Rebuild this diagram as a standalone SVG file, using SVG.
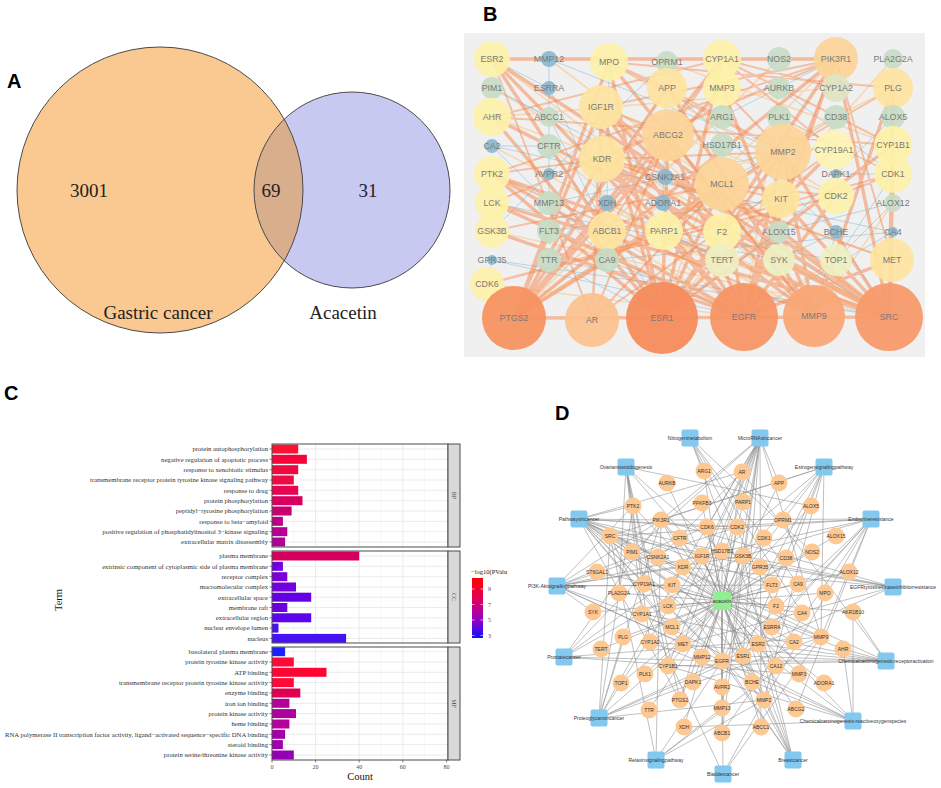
<svg xmlns="http://www.w3.org/2000/svg" width="941" height="788" viewBox="0 0 941 788">
<style>
.pl{font-family:"Liberation Sans",Arial,sans-serif;font-weight:bold;font-size:20px;fill:#000}
.vt{font-family:"Liberation Serif","Times New Roman",serif;font-size:19px;fill:#222;text-anchor:middle}
.bt{font-family:"Liberation Sans",Arial,sans-serif;font-size:8.8px;fill:#7a7a7a;text-anchor:middle}
.dt{font-family:"Liberation Sans",Arial,sans-serif;font-size:5px;fill:#333;text-anchor:middle}
.dc{fill:#fec892}
.ds{fill:#82c8ef}
.ct{font-family:"Liberation Serif","Times New Roman",serif;font-size:6.7px;fill:#333;text-anchor:end}
.ax{font-family:"Liberation Serif","Times New Roman",serif;font-size:6px;fill:#4d4d4d;text-anchor:middle}
.y1{fill:#fdf1a8;fill-opacity:.92}
.y2{fill:#fde4a0;fill-opacity:.92}
.o1{fill:#fcd598;fill-opacity:.92}
.gr{fill:#c8dcc6;fill-opacity:.92}
.bl{fill:#8ab8d0;fill-opacity:.92}
.yg{fill:#eef0c2;fill-opacity:.92}
</style>
<defs>
<clipPath id="cR"><circle cx="352" cy="190" r="98"/></clipPath>
<linearGradient id="lg" x1="0" y1="0" x2="0" y2="1">
<stop offset="0" stop-color="#ff0000"/><stop offset=".35" stop-color="#e0005a"/><stop offset=".68" stop-color="#9a00c0"/><stop offset="1" stop-color="#1010ff"/>
</linearGradient>
</defs>
<rect width="941" height="788" fill="#fff"/>

<!-- Panel A -->
<text class="pl" x="7" y="88">A</text>
<g id="venn">
<circle cx="160" cy="190" r="143" fill="#fac991"/>
<circle cx="352" cy="190" r="98" fill="#c7c9f1"/>
<circle cx="160" cy="190" r="143" fill="#d9ae8d" clip-path="url(#cR)"/>
<circle cx="160" cy="190" r="143" fill="none" stroke="#4a4a4a" stroke-width="1"/>
<circle cx="352" cy="190" r="98" fill="none" stroke="#4a4a4a" stroke-width="1"/>
<text class="vt" x="89" y="197">3001</text>
<text class="vt" x="271" y="197">69</text>
<text class="vt" x="368" y="197">31</text>
<text class="vt" x="158" y="319">Gastric cancer</text>
<text class="vt" x="343" y="319">Acacetin</text>
</g>

<!-- Panel B -->
<text class="pl" x="483" y="21">B</text>
<rect x="464" y="33" width="461" height="324" fill="#f0f0f0"/>
<g id="b-edges" fill="none" stroke-linecap="round">
<path stroke="#88bfdc" stroke-width="0.8" stroke-opacity=".7" d="M492 146L893 232M492 146L607 260M607 260L893 232M492 260L487 284M549 260L667 88M836 232L667 88M893 117L893 203M779 232L893 117M779 232L893 203M893 59L893 117M549 88L662 318M549 88L492 59M549 174L667 62M663 203L667 62M607 203L609 62M836 174L893 174M665 177L492 88M779 260L492 203M836 260L664 231M722 260L664 231M836 260L893 174M893 232L892 260M549 59L549 203M549 59L783 152M549 203L783 152M549 117L607 231M549 146L607 231M549 231L781 199M779 117L893 174M779 88L893 174M836 117L722 184M722 145L834 150M722 117L836 59M492 260L889 317M549 260L889 317M607 260L744 317M836 232L814 316M893 232L889 317M779 232L662 318M665 177L889 317M492 146L549 146M492 88L549 117M893 203L836 260M779 260L836 232M549 174L492 231M607 203L722 260M492 260L744 317M549 260L662 318M893 232L744 317M836 232L889 317"/>
<path stroke="#f9c483" stroke-width="1.6" stroke-opacity=".55" d="M492 88L889 317M492 146L814 316M549 146L744 317M549 231L744 317M607 203L814 316M836 88L492 117M836 117L514 318M722 117L514 318M779 117L893 174M779 88L744 317M722 145L662 318M663 203L514 318M779 260L889 317M836 260L744 317M722 260L889 317M722 232L814 316M664 231L889 317M607 231L744 317M893 203L814 316M487 284L744 317M492 231L889 317M549 59L889 317M609 62L836 196M667 62L893 145M779 59L514 318M893 59L662 318M492 117L893 260M607 231L893 88M664 231L836 59M722 232L492 59M836 196L601 107M779 260L601 107"/>
<path stroke="#f5874d" stroke-width="2" stroke-opacity=".45" d="M783 152L722 88M783 152L602 159M783 152L667 88M783 152L893 88M783 152L609 62M668 135L607 231M668 135L722 59M668 135L601 107M602 159L492 174M602 159L601 107M602 159L836 59M602 159L892 260M602 159L781 199M836 59L601 107M836 59L892 260M836 59L492 174M836 59L492 203M836 59L781 199M722 184L836 196M722 184L664 231M722 184L492 231M893 174L836 196M836 196L487 284M893 174L487 284M722 59L893 145M722 59L836 88M722 59L492 117M834 150L722 59M893 145L492 117M609 62L667 88M609 62L893 88M592 320L492 59M592 320L668 135M592 320L834 150M592 320L601 107M592 320L602 159M592 320L722 184M814 316L492 174M814 316L668 135"/>
<path stroke="#f5844a" stroke-width="3.4" stroke-opacity=".5" d="M514 318L889 317M492 59L836 59M889 317L836 59M889 317L602 159M889 317L601 107M889 317L892 260M889 317L492 174M889 317L492 203M889 317L783 152M889 317L893 174M889 317L722 184M889 317L781 199M889 317L492 59M889 317L492 117M889 317L893 88M889 317L893 145M744 317L836 59M744 317L602 159M744 317L601 107M744 317L892 260M744 317L492 174M744 317L783 152M744 317L722 184M744 317L781 199M744 317L492 59M744 317L668 135M744 317L836 196M744 317L492 231M744 317L492 203M662 318L492 59M662 318L836 59M662 318L834 150M662 318L783 152M662 318L601 107M662 318L492 117M662 318L893 145M662 318L668 135M662 318L722 184M662 318L492 174M662 318L722 59M662 318L609 62M514 318L783 152M514 318L609 62M514 318L668 135M514 318L602 159M514 318L667 88M514 318L722 59M514 318L601 107M514 318L722 184M514 318L836 59M514 318L722 88M814 316L783 152M814 316L722 88M814 316L667 88M814 316L893 88M814 316L609 62M814 316L602 159M814 316L601 107"/>
</g>
<g id="b-ESR2"><circle class="y1" cx="492" cy="59" r="18"/><text class="bt" x="492" y="62">ESR2</text></g>
<g id="b-MMP12"><circle class="bl" cx="549" cy="59" r="8"/><text class="bt" x="549" y="62">MMP12</text></g>
<g id="b-MPO"><circle class="y1" cx="609" cy="62" r="19"/><text class="bt" x="609" y="65">MPO</text></g>
<g id="b-OPRM1"><circle class="gr" cx="667" cy="62" r="11"/><text class="bt" x="667" y="65">OPRM1</text></g>
<g id="b-CYP1A1"><circle class="y1" cx="722" cy="59" r="19"/><text class="bt" x="722" y="62">CYP1A1</text></g>
<g id="b-NOS2"><circle class="gr" cx="779" cy="59" r="12"/><text class="bt" x="779" y="62">NOS2</text></g>
<g id="b-PIK3R1"><circle class="o1" cx="836" cy="59" r="22"/><text class="bt" x="836" y="62">PIK3R1</text></g>
<g id="b-PLA2G2A"><circle class="gr" cx="893" cy="59" r="10"/><text class="bt" x="893" y="62">PLA2G2A</text></g>
<g id="b-PIM1"><circle class="gr" cx="492" cy="88" r="11"/><text class="bt" x="492" y="91">PIM1</text></g>
<g id="b-ESRRA"><circle class="bl" cx="549" cy="88" r="7"/><text class="bt" x="549" y="91">ESRRA</text></g>
<g id="b-APP"><circle class="y2" cx="667" cy="88" r="20"/><text class="bt" x="667" y="91">APP</text></g>
<g id="b-MMP3"><circle class="y1" cx="722" cy="88" r="19"/><text class="bt" x="722" y="91">MMP3</text></g>
<g id="b-AURKB"><circle class="gr" cx="779" cy="88" r="11"/><text class="bt" x="779" y="91">AURKB</text></g>
<g id="b-CYP1A2"><circle fill="#dfe4c3" fill-opacity=".92" cx="836" cy="88" r="14"/><text class="bt" x="836" y="91">CYP1A2</text></g>
<g id="b-PLG"><circle class="y2" cx="893" cy="88" r="20"/><text class="bt" x="893" y="91">PLG</text></g>
<g id="b-IGF1R"><circle class="y2" cx="601" cy="107" r="22"/><text class="bt" x="601" y="110">IGF1R</text></g>
<g id="b-AHR"><circle class="y1" cx="492" cy="117" r="19"/><text class="bt" x="492" y="120">AHR</text></g>
<g id="b-ABCC1"><circle class="gr" cx="549" cy="117" r="10"/><text class="bt" x="549" y="120">ABCC1</text></g>
<g id="b-ARG1"><circle class="gr" cx="722" cy="117" r="12"/><text class="bt" x="722" y="120">ARG1</text></g>
<g id="b-PLK1"><circle class="gr" cx="779" cy="117" r="12"/><text class="bt" x="779" y="120">PLK1</text></g>
<g id="b-CD38"><circle class="gr" cx="836" cy="117" r="12"/><text class="bt" x="836" y="120">CD38</text></g>
<g id="b-ALOX5"><circle class="gr" cx="893" cy="117" r="12"/><text class="bt" x="893" y="120">ALOX5</text></g>
<g id="b-ABCG2"><circle class="o1" cx="668" cy="135" r="26"/><text class="bt" x="668" y="138">ABCG2</text></g>
<g id="b-CA2"><circle class="bl" cx="492" cy="146" r="7"/><text class="bt" x="492" y="149">CA2</text></g>
<g id="b-CFTR"><circle class="gr" cx="549" cy="146" r="12"/><text class="bt" x="549" y="149">CFTR</text></g>
<g id="b-HSD17B1"><circle class="gr" cx="722" cy="145" r="12"/><text class="bt" x="722" y="148">HSD17B1</text></g>
<g id="b-MMP2"><circle class="o1" cx="783" cy="152" r="28"/><text class="bt" x="783" y="155">MMP2</text></g>
<g id="b-CYP19A1"><circle fill="#fef4b4" fill-opacity=".92" cx="834" cy="150" r="20"/><text class="bt" x="834" y="153">CYP19A1</text></g>
<g id="b-CYP1B1"><circle class="y1" cx="893" cy="145" r="19"/><text class="bt" x="893" y="148">CYP1B1</text></g>
<g id="b-KDR"><circle class="y2" cx="602" cy="159" r="23"/><text class="bt" x="602" y="162">KDR</text></g>
<g id="b-PTK2"><circle class="y1" cx="492" cy="174" r="18"/><text class="bt" x="492" y="177">PTK2</text></g>
<g id="b-AVPR2"><circle class="bl" cx="549" cy="174" r="6"/><text class="bt" x="549" y="177">AVPR2</text></g>
<g id="b-CSNK2A1"><circle class="bl" cx="665" cy="177" r="8"/><text class="bt" x="665" y="180">CSNK2A1</text></g>
<g id="b-DAPK1"><circle class="bl" cx="836" cy="174" r="5"/><text class="bt" x="836" y="177">DAPK1</text></g>
<g id="b-CDK1"><circle class="y1" cx="893" cy="174" r="19"/><text class="bt" x="893" y="177">CDK1</text></g>
<g id="b-MCL1"><circle class="o1" cx="722" cy="184" r="27"/><text class="bt" x="722" y="187">MCL1</text></g>
<g id="b-LCK"><circle class="y1" cx="492" cy="203" r="17"/><text class="bt" x="492" y="206">LCK</text></g>
<g id="b-MMP13"><circle class="gr" cx="549" cy="203" r="12"/><text class="bt" x="549" y="206">MMP13</text></g>
<g id="b-XDH"><circle class="bl" cx="607" cy="203" r="8"/><text class="bt" x="607" y="206">XDH</text></g>
<g id="b-ADORA1"><circle class="bl" cx="663" cy="203" r="8"/><text class="bt" x="663" y="206">ADORA1</text></g>
<g id="b-KIT"><circle class="y2" cx="781" cy="199" r="19"/><text class="bt" x="781" y="202">KIT</text></g>
<g id="b-CDK2"><circle class="y1" cx="836" cy="196" r="18"/><text class="bt" x="836" y="199">CDK2</text></g>
<g id="b-ALOX12"><circle class="gr" cx="893" cy="203" r="9"/><text class="bt" x="893" y="206">ALOX12</text></g>
<g id="b-GSK3B"><circle class="y1" cx="492" cy="231" r="17"/><text class="bt" x="492" y="234">GSK3B</text></g>
<g id="b-FLT3"><circle class="gr" cx="549" cy="231" r="12"/><text class="bt" x="549" y="234">FLT3</text></g>
<g id="b-ABCB1"><circle class="y2" cx="607" cy="231" r="19"/><text class="bt" x="607" y="234">ABCB1</text></g>
<g id="b-PARP1"><circle class="y1" cx="664" cy="231" r="19"/><text class="bt" x="664" y="234">PARP1</text></g>
<g id="b-F2"><circle class="y1" cx="722" cy="232" r="19"/><text class="bt" x="722" y="235">F2</text></g>
<g id="b-ALOX15"><circle class="gr" cx="779" cy="232" r="11"/><text class="bt" x="779" y="235">ALOX15</text></g>
<g id="b-BCHE"><circle class="bl" cx="836" cy="232" r="7"/><text class="bt" x="836" y="235">BCHE</text></g>
<g id="b-CA4"><circle class="bl" cx="893" cy="232" r="5"/><text class="bt" x="893" y="235">CA4</text></g>
<g id="b-GPR35"><circle class="bl" cx="492" cy="260" r="5"/><text class="bt" x="492" y="263">GPR35</text></g>
<g id="b-TTR"><circle class="gr" cx="549" cy="260" r="12"/><text class="bt" x="549" y="263">TTR</text></g>
<g id="b-CA9"><circle class="gr" cx="607" cy="260" r="12"/><text class="bt" x="607" y="263">CA9</text></g>
<g id="b-TERT"><circle class="yg" cx="722" cy="260" r="17"/><text class="bt" x="722" y="263">TERT</text></g>
<g id="b-SYK"><circle class="yg" cx="779" cy="260" r="16"/><text class="bt" x="779" y="263">SYK</text></g>
<g id="b-TOP1"><circle class="yg" cx="836" cy="260" r="16"/><text class="bt" x="836" y="263">TOP1</text></g>
<g id="b-MET"><circle class="y2" cx="892" cy="260" r="22"/><text class="bt" x="892" y="263">MET</text></g>
<g id="b-CDK6"><circle class="y1" cx="487" cy="284" r="17"/><text class="bt" x="487" y="287">CDK6</text></g>
<g id="b-PTGS2"><circle fill="#f79260" fill-opacity=".95" cx="514" cy="318" r="32"/><text class="bt" x="514" y="321">PTGS2</text></g>
<g id="b-AR"><circle fill="#fbc28f" fill-opacity=".95" cx="592" cy="320" r="27"/><text class="bt" x="592" y="323">AR</text></g>
<g id="b-ESR1"><circle fill="#f58b5c" fill-opacity=".95" cx="662" cy="318" r="36"/><text class="bt" x="662" y="321">ESR1</text></g>
<g id="b-EGFR"><circle fill="#f79565" fill-opacity=".95" cx="744" cy="317" r="34"/><text class="bt" x="744" y="320">EGFR</text></g>
<g id="b-MMP9"><circle fill="#f9a676" fill-opacity=".95" cx="814" cy="316" r="31"/><text class="bt" x="814" y="319">MMP9</text></g>
<g id="b-SRC"><circle fill="#f79a6b" fill-opacity=".95" cx="889" cy="317" r="34"/><text class="bt" x="889" y="320">SRC</text></g>

<!-- Panel C -->
<text class="pl" x="4" y="400">C</text>
<g id="c-chart">
<rect x="272" y="444" width="176" height="103" fill="#fff"/>
<rect x="272" y="551" width="176" height="92" fill="#fff"/>
<rect x="272" y="647" width="176" height="113" fill="#fff"/>
<path fill="none" stroke="#f3f3f3" stroke-width="0.5" d="M293.8 444V547M337.4 444V547M381 444V547M424.6 444V547M293.8 551V643M337.4 551V643M381 551V643M424.6 551V643M293.8 647V760M337.4 647V760M381 647V760M424.6 647V760"/>
<path fill="none" stroke="#e6e6e6" stroke-width="0.8" d="M315.6 444V547M359.2 444V547M402.8 444V547M315.6 551V643M359.2 551V643M402.8 551V643M315.6 647V760M359.2 647V760M402.8 647V760M272 449H448M272 459.3H448M272 469.7H448M272 480H448M272 490.3H448M272 500.7H448M272 511H448M272 521.3H448M272 531.7H448M272 542H448M272 556H448M272 566.3H448M272 576.7H448M272 587H448M272 597.2H448M272 607.5H448M272 617.8H448M272 628.1H448M272 638.4H448M272 651.7H448M272 662H448M272 672.3H448M272 682.6H448M272 693H448M272 703.3H448M272 713.6H448M272 724H448M272 734.3H448M272 744.6H448M272 755H448"/>
<g id="c-bars">
<rect x="272" y="444.5" width="26.2" height="9" fill="#ff1030"/>
<rect x="272" y="454.8" width="34.9" height="9" fill="#f5053a"/>
<rect x="272" y="465.2" width="26.2" height="9" fill="#f00840"/>
<rect x="272" y="475.5" width="21.8" height="9" fill="#ee0a45"/>
<rect x="272" y="485.8" width="26.2" height="9" fill="#e60550"/>
<rect x="272" y="496.2" width="30.5" height="9" fill="#d8005e"/>
<rect x="272" y="506.5" width="19.6" height="9" fill="#c8006e"/>
<rect x="272" y="516.8" width="10.9" height="9" fill="#bb0085"/>
<rect x="272" y="527.2" width="15.3" height="9" fill="#b50090"/>
<rect x="272" y="537.5" width="13.1" height="9" fill="#b0009a"/>
<rect x="272" y="551.5" width="87.2" height="9" fill="#d5005e"/>
<rect x="272" y="561.8" width="10.9" height="9" fill="#7000e0"/>
<rect x="272" y="572.2" width="15.3" height="9" fill="#7a00d6"/>
<rect x="272" y="582.5" width="24" height="9" fill="#7000dc"/>
<rect x="272" y="592.7" width="39.2" height="9" fill="#6500e5"/>
<rect x="272" y="603" width="15.3" height="9" fill="#6a00e2"/>
<rect x="272" y="613.3" width="39.2" height="9" fill="#5a05ec"/>
<rect x="272" y="623.6" width="6.5" height="9" fill="#4a10f2"/>
<rect x="272" y="633.9" width="74.1" height="9" fill="#4612f5"/>
<rect x="272" y="647.2" width="13.1" height="9" fill="#1a22ff"/>
<rect x="272" y="657.5" width="21.8" height="9" fill="#ff0a38"/>
<rect x="272" y="667.8" width="54.5" height="9" fill="#ff0533"/>
<rect x="272" y="678.1" width="21.8" height="9" fill="#ff0a38"/>
<rect x="272" y="688.5" width="28.3" height="9" fill="#e00052"/>
<rect x="272" y="698.8" width="17.4" height="9" fill="#b4009a"/>
<rect x="272" y="709.1" width="24" height="9" fill="#b000a0"/>
<rect x="272" y="719.5" width="17.4" height="9" fill="#b4009a"/>
<rect x="272" y="729.8" width="13.1" height="9" fill="#a200a8"/>
<rect x="272" y="740.1" width="10.9" height="9" fill="#a000ab"/>
<rect x="272" y="750.5" width="21.8" height="9" fill="#9400b4"/>
</g>
<rect x="272" y="444" width="176" height="103" fill="none" stroke="#4d4d4d" stroke-width="1"/>
<rect x="272" y="551" width="176" height="92" fill="none" stroke="#4d4d4d" stroke-width="1"/>
<rect x="272" y="647" width="176" height="113" fill="none" stroke="#4d4d4d" stroke-width="1"/>
<rect x="448" y="444" width="12" height="103" fill="#d9d9d9" stroke="#4d4d4d" stroke-width="1"/>
<rect x="448" y="551" width="12" height="92" fill="#d9d9d9" stroke="#4d4d4d" stroke-width="1"/>
<rect x="448" y="647" width="12" height="113" fill="#d9d9d9" stroke="#4d4d4d" stroke-width="1"/>
<text class="ax" transform="translate(452 495.5) rotate(90)" fill="#1a1a1a">BP</text>
<text class="ax" transform="translate(452 597) rotate(90)" fill="#1a1a1a">CC</text>
<text class="ax" transform="translate(452 703.5) rotate(90)" fill="#1a1a1a">MF</text>
<path fill="none" stroke="#333" stroke-width="0.6" d="M269.5 449H272M269.5 459.3H272M269.5 469.7H272M269.5 480H272M269.5 490.3H272M269.5 500.7H272M269.5 511H272M269.5 521.3H272M269.5 531.7H272M269.5 542H272M269.5 556H272M269.5 566.3H272M269.5 576.7H272M269.5 587H272M269.5 597.2H272M269.5 607.5H272M269.5 617.8H272M269.5 628.1H272M269.5 638.4H272M269.5 651.7H272M269.5 662H272M269.5 672.3H272M269.5 682.6H272M269.5 693H272M269.5 703.3H272M269.5 713.6H272M269.5 724H272M269.5 734.3H272M269.5 744.6H272M269.5 755H272M272 760V762.5M315.6 760V762.5M359.2 760V762.5M402.8 760V762.5M446.4 760V762.5"/>
<text class="ct" x="268" y="451.3">protein autophosphorylation</text>
<text class="ct" x="268" y="461.6">negative regulation of apoptotic process</text>
<text class="ct" x="268" y="472">response to xenobiotic stimulus</text>
<text class="ct" x="268" y="482.3">transmembrane receptor protein tyrosine kinase signaling pathway</text>
<text class="ct" x="268" y="492.6">response to drug</text>
<text class="ct" x="268" y="503">protein phosphorylation</text>
<text class="ct" x="268" y="513.3">peptidyl−tyrosine phosphorylation</text>
<text class="ct" x="268" y="523.6">response to beta−amyloid</text>
<text class="ct" x="268" y="534">positive regulation of phosphatidylinositol 3−kinase signaling</text>
<text class="ct" x="268" y="544.3">extracellular matrix disassembly</text>
<text class="ct" x="268" y="558.3">plasma membrane</text>
<text class="ct" x="268" y="568.6">extrinsic component of cytoplasmic side of plasma membrane</text>
<text class="ct" x="268" y="579">receptor complex</text>
<text class="ct" x="268" y="589.3">macromolecular complex</text>
<text class="ct" x="268" y="599.5">extracellular space</text>
<text class="ct" x="268" y="609.8">membrane raft</text>
<text class="ct" x="268" y="620.1">extracellular region</text>
<text class="ct" x="268" y="630.4">nuclear envelope lumen</text>
<text class="ct" x="268" y="640.7">nucleus</text>
<text class="ct" x="268" y="654">basolateral plasma membrane</text>
<text class="ct" x="268" y="664.3">protein tyrosine kinase activity</text>
<text class="ct" x="268" y="674.6">ATP binding</text>
<text class="ct" x="268" y="684.9">transmembrane receptor protein tyrosine kinase activity</text>
<text class="ct" x="268" y="695.3">enzyme binding</text>
<text class="ct" x="268" y="705.6">iron ion binding</text>
<text class="ct" x="268" y="715.9">protein kinase activity</text>
<text class="ct" x="268" y="726.3">heme binding</text>
<text class="ct" x="268" y="736.6">RNA polymerase II transcription factor activity, ligand−activated sequence−specific DNA binding</text>
<text class="ct" x="268" y="746.9">steroid binding</text>
<text class="ct" x="268" y="757.3">protein serine/threonine kinase activity</text>
<text class="ax" x="272" y="768.5">0</text>
<text class="ax" x="315.6" y="768.5">20</text>
<text class="ax" x="359.2" y="768.5">40</text>
<text class="ax" x="402.8" y="768.5">60</text>
<text class="ax" x="446.4" y="768.5">80</text>
<text x="360" y="780" font-family="Liberation Serif, Times New Roman, serif" font-size="10.5" fill="#111" text-anchor="middle">Count</text>
<text transform="translate(62 600) rotate(-90)" font-family="Liberation Serif, Times New Roman, serif" font-size="10.5" fill="#111" text-anchor="middle">Term</text>
<text x="471" y="574" font-family="Liberation Serif, Times New Roman, serif" font-size="6.5" fill="#222">−log10(PValu</text>
<rect x="472" y="578" width="11" height="60" fill="url(#lg)"/>
<path fill="none" stroke="#fff" stroke-width="0.6" d="M472 589H474.5M480.5 589H483M472 604.5H474.5M480.5 604.5H483M472 620H474.5M480.5 620H483M472 635.5H474.5M480.5 635.5H483"/>
<text class="ax" x="488" y="591" style="text-anchor:start">9</text>
<text class="ax" x="488" y="606.5" style="text-anchor:start">7</text>
<text class="ax" x="488" y="622" style="text-anchor:start">5</text>
<text class="ax" x="488" y="637.5" style="text-anchor:start">3</text>
</g>

<!-- Panel D -->
<text class="pl" x="555" y="420">D</text>
<g id="d-edges" fill="none" stroke="#8c8c8c" stroke-width="0.55">
<path d="M722 601L704 471M722 601L667 483M722 601L742 472M722 601L779 483M722 601L633 506M722 601L702 503M722 601L743 502M722 601L811 506M722 601L661 520M722 601L783 520M722 601L707 527M722 601L737 527M722 601L610 536M722 601L680 538M722 601L764 538M722 601L836 536M722 601L632 552M722 601L658 557M722 601L702 556M722 601L722 551M722 601L743 556M722 601L786 558M722 601L812 552M722 601L683 567M722 601L760 567M722 601L597 572M722 601L849 572M722 601L644 584M722 601L672 585M722 601L772 585M722 601L798 584M722 601L619 593M722 601L825 593M722 601L593 612M722 601L668 606M722 601L776 606M722 601L802 613M722 601L853 612M722 601L642 614M722 601L672 627M722 601L772 627M722 601L623 637M722 601L821 637M722 601L650 642M722 601L683 644M722 601L758 644M722 601L794 642M722 601L601 649M722 601L843 649M722 601L702 657M722 601L722 661M722 601L743 656M722 601L776 666M722 601L668 666M722 601L645 674M722 601L799 674M722 601L621 683M722 601L693 682M722 601L752 682M722 601L824 683M722 601L722 687M722 601L680 700M722 601L764 700M722 601L722 708M722 601L796 709M722 601L649 710M722 601L684 727M722 601L722 733M722 601L761 727"/>
<path d="M690 438L704 471M690 438L812 552M690 438L794 642M690 438L802 613M690 438L798 584M690 438L776 666M760 438L680 700M760 438L672 627M760 438L722 661M760 438L683 644M760 438L821 637M760 438L722 708M760 438L707 527M760 438L722 733M760 438L761 727M760 438L661 520M760 438L632 552M760 438L779 483M760 438L742 472M760 438L672 585M760 438L743 656M760 438L668 666M760 438L743 502M760 438L702 556M626 467L644 584M626 467L668 666M626 467L642 614M626 467L680 700M626 467L722 551M626 467L811 506M626 467L619 593M626 467L633 506M626 467L702 556M626 467L650 642M824 467L743 656M824 467L758 644M824 467L722 661M824 467L610 536M824 467L661 520M824 467L821 637M824 467L764 700M824 467L722 551M824 467L783 520M824 467L743 556"/>
<path d="M579 519L722 661M579 519L610 536M579 519L661 520M579 519L672 585M579 519L772 585M579 519L683 644M579 519L702 556M579 519L680 700M579 519L821 637M579 519L764 700M579 519L742 472M579 519L743 656M579 519L758 644M579 519L707 527M579 519L737 527M579 519L743 556M579 519L633 506M579 519L632 552M579 519L658 557M579 519L683 567M579 519L672 627M871 519L743 656M871 519L758 644M871 519L722 661M871 519L610 536M871 519L661 520M871 519L702 556M871 519L722 733M871 519L796 709M871 519L821 637M871 519L764 700M871 519L707 527M871 519L743 556"/>
<path d="M557 586L722 661M557 586L661 520M557 586L672 585M557 586L772 585M557 586L683 644M557 586L702 556M557 586L683 567M557 586L593 612M557 586L633 506M557 586L672 627M557 586L707 527M557 586L737 527M557 586L743 556M893 587L722 661M893 587L610 536M893 587L661 520M893 587L683 644M893 587L683 567M893 587L702 556M893 587L743 556M564 657L742 472M564 657L722 661M564 657L661 520M564 657L743 556M564 657L799 674M564 657L821 637M564 657L702 556M886 661L843 649M886 661L642 614M886 661L650 642M886 661L668 666M886 661L743 656M886 661L742 472M886 661L722 661M886 661L610 536M886 661L853 612M886 661L758 644"/>
<path d="M599 718L610 536M599 718L722 661M599 718L661 520M599 718L683 567M599 718L683 644M599 718L623 637M599 718L764 700M599 718L821 637M599 718L743 656M599 718L702 556M599 718L633 506M853 721L642 614M853 721L650 642M853 721L668 666M853 721L843 649M853 721L722 661M853 721L610 536M853 721L684 727M853 721L661 520M853 721L853 612M656 760L722 661M656 760L610 536M656 760L661 520M656 760L764 700M656 760L821 637M656 760L722 708M793 760L743 656M793 760L758 644M793 760L722 661M793 760L661 520M793 760L743 556M793 760L707 527M793 760L672 585M793 760L702 556M723 774L722 661M723 774L610 536M723 774L764 700M723 774L821 637"/>
</g>
<g id="d-ARG1"><circle class="dc" cx="704" cy="471" r="8.5"/><text class="dt" x="704" y="472.8">ARG1</text></g>
<g id="d-AURKB"><circle class="dc" cx="667" cy="483" r="8.5"/><text class="dt" x="667" y="484.8">AURKB</text></g>
<g id="d-AR"><circle class="dc" cx="742" cy="472" r="8.5"/><text class="dt" x="742" y="473.8">AR</text></g>
<g id="d-APP"><circle class="dc" cx="779" cy="483" r="8.5"/><text class="dt" x="779" y="484.8">APP</text></g>
<g id="d-PTK2"><circle class="dc" cx="633" cy="506" r="8.5"/><text class="dt" x="633" y="507.8">PTK2</text></g>
<g id="d-PFKFB3"><circle class="dc" cx="702" cy="503" r="8.5"/><text class="dt" x="702" y="504.8">PFKFB3</text></g>
<g id="d-PARP1"><circle class="dc" cx="743" cy="502" r="8.5"/><text class="dt" x="743" y="503.8">PARP1</text></g>
<g id="d-ALOX5"><circle class="dc" cx="811" cy="506" r="8.5"/><text class="dt" x="811" y="507.8">ALOX5</text></g>
<g id="d-PIK3R1"><circle class="dc" cx="661" cy="520" r="8.5"/><text class="dt" x="661" y="521.8">PIK3R1</text></g>
<g id="d-OPRM1"><circle class="dc" cx="783" cy="520" r="8.5"/><text class="dt" x="783" y="521.8">OPRM1</text></g>
<g id="d-CDK6"><circle class="dc" cx="707" cy="527" r="8.5"/><text class="dt" x="707" y="528.8">CDK6</text></g>
<g id="d-CDK2"><circle class="dc" cx="737" cy="527" r="8.5"/><text class="dt" x="737" y="528.8">CDK2</text></g>
<g id="d-SRC"><circle class="dc" cx="610" cy="536" r="8.5"/><text class="dt" x="610" y="537.8">SRC</text></g>
<g id="d-CFTR"><circle class="dc" cx="680" cy="538" r="8.5"/><text class="dt" x="680" y="539.8">CFTR</text></g>
<g id="d-CDK1"><circle class="dc" cx="764" cy="538" r="8.5"/><text class="dt" x="764" y="539.8">CDK1</text></g>
<g id="d-ALOX15"><circle class="dc" cx="836" cy="536" r="8.5"/><text class="dt" x="836" y="537.8">ALOX15</text></g>
<g id="d-PIM1"><circle class="dc" cx="632" cy="552" r="8.5"/><text class="dt" x="632" y="553.8">PIM1</text></g>
<g id="d-CSNK2A1"><circle class="dc" cx="658" cy="557" r="8.5"/><text class="dt" x="658" y="558.8">CSNK2A1</text></g>
<g id="d-IGF1R"><circle class="dc" cx="702" cy="556" r="8.5"/><text class="dt" x="702" y="557.8">IGF1R</text></g>
<g id="d-HSD17B1"><circle class="dc" cx="722" cy="551" r="8.5"/><text class="dt" x="722" y="552.8">HSD17B1</text></g>
<g id="d-GSK3B"><circle class="dc" cx="743" cy="556" r="8.5"/><text class="dt" x="743" y="557.8">GSK3B</text></g>
<g id="d-CD38"><circle class="dc" cx="786" cy="558" r="8.5"/><text class="dt" x="786" y="559.8">CD38</text></g>
<g id="d-NOS2"><circle class="dc" cx="812" cy="552" r="8.5"/><text class="dt" x="812" y="553.8">NOS2</text></g>
<g id="d-KDR"><circle class="dc" cx="683" cy="567" r="8.5"/><text class="dt" x="683" y="568.8">KDR</text></g>
<g id="d-GPR35"><circle class="dc" cx="760" cy="567" r="8.5"/><text class="dt" x="760" y="568.8">GPR35</text></g>
<g id="d-ST6GAL1"><circle class="dc" cx="597" cy="572" r="8.5"/><text class="dt" x="597" y="573.8">ST6GAL1</text></g>
<g id="d-ALOX12"><circle class="dc" cx="849" cy="572" r="8.5"/><text class="dt" x="849" y="573.8">ALOX12</text></g>
<g id="d-CYP19A1"><circle class="dc" cx="644" cy="584" r="8.5"/><text class="dt" x="644" y="585.8">CYP19A1</text></g>
<g id="d-KIT"><circle class="dc" cx="672" cy="585" r="8.5"/><text class="dt" x="672" y="586.8">KIT</text></g>
<g id="d-FLT3"><circle class="dc" cx="772" cy="585" r="8.5"/><text class="dt" x="772" y="586.8">FLT3</text></g>
<g id="d-CA9"><circle class="dc" cx="798" cy="584" r="8.5"/><text class="dt" x="798" y="585.8">CA9</text></g>
<g id="d-PLA2G2A"><circle class="dc" cx="619" cy="593" r="8.5"/><text class="dt" x="619" y="594.8">PLA2G2A</text></g>
<g id="d-MPO"><circle class="dc" cx="825" cy="593" r="8.5"/><text class="dt" x="825" y="594.8">MPO</text></g>
<g id="d-SYK"><circle class="dc" cx="593" cy="612" r="8.5"/><text class="dt" x="593" y="613.8">SYK</text></g>
<g id="d-LCK"><circle class="dc" cx="668" cy="606" r="8.5"/><text class="dt" x="668" y="607.8">LCK</text></g>
<g id="d-F2"><circle class="dc" cx="776" cy="606" r="8.5"/><text class="dt" x="776" y="607.8">F2</text></g>
<g id="d-CA4"><circle class="dc" cx="802" cy="613" r="8.5"/><text class="dt" x="802" y="614.8">CA4</text></g>
<g id="d-AKR1B10"><circle class="dc" cx="853" cy="612" r="8.5"/><text class="dt" x="853" y="613.8">AKR1B10</text></g>
<g id="d-CYP1A1"><circle class="dc" cx="642" cy="614" r="8.5"/><text class="dt" x="642" y="615.8">CYP1A1</text></g>
<g id="d-MCL1"><circle class="dc" cx="672" cy="627" r="8.5"/><text class="dt" x="672" y="628.8">MCL1</text></g>
<g id="d-ESRRA"><circle class="dc" cx="772" cy="627" r="8.5"/><text class="dt" x="772" y="628.8">ESRRA</text></g>
<g id="d-PLG"><circle class="dc" cx="623" cy="637" r="8.5"/><text class="dt" x="623" y="638.8">PLG</text></g>
<g id="d-MMP9"><circle class="dc" cx="821" cy="637" r="8.5"/><text class="dt" x="821" y="638.8">MMP9</text></g>
<g id="d-CYP1A2"><circle class="dc" cx="650" cy="642" r="8.5"/><text class="dt" x="650" y="643.8">CYP1A2</text></g>
<g id="d-MET"><circle class="dc" cx="683" cy="644" r="8.5"/><text class="dt" x="683" y="645.8">MET</text></g>
<g id="d-ESR2"><circle class="dc" cx="758" cy="644" r="8.5"/><text class="dt" x="758" y="645.8">ESR2</text></g>
<g id="d-CA2"><circle class="dc" cx="794" cy="642" r="8.5"/><text class="dt" x="794" y="643.8">CA2</text></g>
<g id="d-TERT"><circle class="dc" cx="601" cy="649" r="8.5"/><text class="dt" x="601" y="650.8">TERT</text></g>
<g id="d-AHR"><circle class="dc" cx="843" cy="649" r="8.5"/><text class="dt" x="843" y="650.8">AHR</text></g>
<g id="d-MMP12"><circle class="dc" cx="702" cy="657" r="8.5"/><text class="dt" x="702" y="658.8">MMP12</text></g>
<g id="d-EGFR"><circle class="dc" cx="722" cy="661" r="8.5"/><text class="dt" x="722" y="662.8">EGFR</text></g>
<g id="d-ESR1"><circle class="dc" cx="743" cy="656" r="8.5"/><text class="dt" x="743" y="657.8">ESR1</text></g>
<g id="d-CA12"><circle class="dc" cx="776" cy="666" r="8.5"/><text class="dt" x="776" y="667.8">CA12</text></g>
<g id="d-CYP1B1"><circle class="dc" cx="668" cy="666" r="8.5"/><text class="dt" x="668" y="667.8">CYP1B1</text></g>
<g id="d-PLK1"><circle class="dc" cx="645" cy="674" r="8.5"/><text class="dt" x="645" y="675.8">PLK1</text></g>
<g id="d-MMP3"><circle class="dc" cx="799" cy="674" r="8.5"/><text class="dt" x="799" y="675.8">MMP3</text></g>
<g id="d-TOP1"><circle class="dc" cx="621" cy="683" r="8.5"/><text class="dt" x="621" y="684.8">TOP1</text></g>
<g id="d-DAPK1"><circle class="dc" cx="693" cy="682" r="8.5"/><text class="dt" x="693" y="683.8">DAPK1</text></g>
<g id="d-BCHE"><circle class="dc" cx="752" cy="682" r="8.5"/><text class="dt" x="752" y="683.8">BCHE</text></g>
<g id="d-ADORA1"><circle class="dc" cx="824" cy="683" r="8.5"/><text class="dt" x="824" y="684.8">ADORA1</text></g>
<g id="d-AVPR2"><circle class="dc" cx="722" cy="687" r="8.5"/><text class="dt" x="722" y="688.8">AVPR2</text></g>
<g id="d-PTGS2"><circle class="dc" cx="680" cy="700" r="8.5"/><text class="dt" x="680" y="701.8">PTGS2</text></g>
<g id="d-MMP2"><circle class="dc" cx="764" cy="700" r="8.5"/><text class="dt" x="764" y="701.8">MMP2</text></g>
<g id="d-MMP13"><circle class="dc" cx="722" cy="708" r="8.5"/><text class="dt" x="722" y="709.8">MMP13</text></g>
<g id="d-ABCG2"><circle class="dc" cx="796" cy="709" r="8.5"/><text class="dt" x="796" y="710.8">ABCG2</text></g>
<g id="d-TTR"><circle class="dc" cx="649" cy="710" r="8.5"/><text class="dt" x="649" y="711.8">TTR</text></g>
<g id="d-XDH"><circle class="dc" cx="684" cy="727" r="8.5"/><text class="dt" x="684" y="728.8">XDH</text></g>
<g id="d-ABCB1"><circle class="dc" cx="722" cy="733" r="8.5"/><text class="dt" x="722" y="734.8">ABCB1</text></g>
<g id="d-ABCC1"><circle class="dc" cx="761" cy="727" r="8.5"/><text class="dt" x="761" y="728.8">ABCC1</text></g>
<g id="d-acacetin"><rect x="713" y="592" width="18" height="18" rx="2" fill="#92ee92"/><text class="dt" x="722" y="602.8">acacetin</text></g>
<g id="d-Nitrogenmetabolism"><rect x="681.5" y="429.5" width="17" height="17" rx="2" class="ds"/><text class="dt" x="690" y="439.8">Nitrogenmetabolism</text></g>
<g id="d-MicroRNAsincancer"><rect x="751.5" y="429.5" width="17" height="17" rx="2" class="ds"/><text class="dt" x="760" y="439.8">MicroRNAsincancer</text></g>
<g id="d-Ovariansteroidogenesis"><rect x="617.5" y="458.5" width="17" height="17" rx="2" class="ds"/><text class="dt" x="626" y="468.8">Ovariansteroidogenesis</text></g>
<g id="d-Estrogensignalingpathway"><rect x="815.5" y="458.5" width="17" height="17" rx="2" class="ds"/><text class="dt" x="824" y="468.8">Estrogensignalingpathway</text></g>
<g id="d-Pathwaysincancer"><rect x="570.5" y="510.5" width="17" height="17" rx="2" class="ds"/><text class="dt" x="579" y="520.8">Pathwaysincancer</text></g>
<g id="d-Endocrineresistance"><rect x="862.5" y="510.5" width="17" height="17" rx="2" class="ds"/><text class="dt" x="871" y="520.8">Endocrineresistance</text></g>
<g id="d-PI3K"><rect x="548.5" y="577.5" width="17" height="17" rx="2" class="ds"/><text class="dt" x="557" y="587.8">PI3K-Aktsignalingpathway</text></g>
<g id="d-EGFRTKI"><rect x="884.5" y="578.5" width="17" height="17" rx="2" class="ds"/><text class="dt" x="893" y="588.8">EGFRtyrosinekinaseinhibitorresistance</text></g>
<g id="d-Prostatecancer"><rect x="555.5" y="648.5" width="17" height="17" rx="2" class="ds"/><text class="dt" x="564" y="658.8">Prostatecancer</text></g>
<g id="d-ChemRA"><rect x="877.5" y="652.5" width="17" height="17" rx="2" class="ds"/><text class="dt" x="886" y="662.8">Chemicalcarcinogenesis-receptoractivation</text></g>
<g id="d-Proteoglycansincancer"><rect x="590.5" y="709.5" width="17" height="17" rx="2" class="ds"/><text class="dt" x="599" y="719.8">Proteoglycansincancer</text></g>
<g id="d-ChemROS"><rect x="844.5" y="712.5" width="17" height="17" rx="2" class="ds"/><text class="dt" x="853" y="722.8">Chemicalcarcinogenesis-reactiveoxygenspecies</text></g>
<g id="d-Relaxinsignalingpathway"><rect x="647.5" y="751.5" width="17" height="17" rx="2" class="ds"/><text class="dt" x="656" y="761.8">Relaxinsignalingpathway</text></g>
<g id="d-Breastcancer"><rect x="784.5" y="751.5" width="17" height="17" rx="2" class="ds"/><text class="dt" x="793" y="761.8">Breastcancer</text></g>
<g id="d-Bladdercancer"><rect x="714.5" y="765.5" width="17" height="17" rx="2" class="ds"/><text class="dt" x="723" y="775.8">Bladdercancer</text></g>
</svg>
